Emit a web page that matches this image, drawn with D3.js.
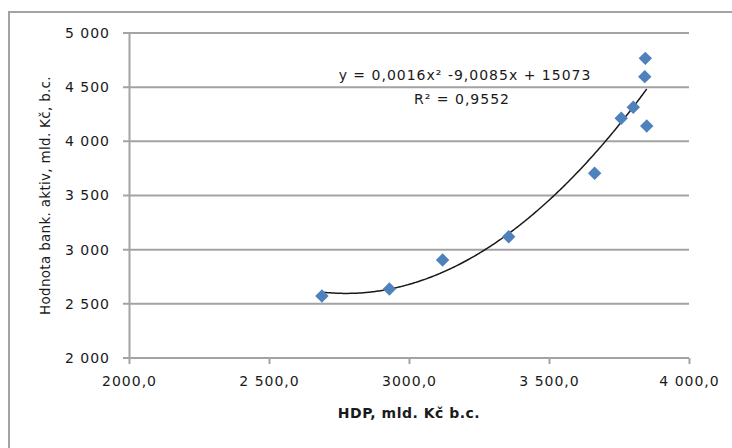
<!DOCTYPE html>
<html>
<head>
<meta charset="utf-8">
<script src="https://cdn.jsdelivr.net/npm/d3@7"></script>
<style>
  body { margin: 0; background: #fff; }
  text { font-family: "DejaVu Sans", sans-serif; fill: #1a1a1a; }
</style>
</head>
<body>
<svg id="chart" width="732" height="448"></svg>
<script>
// HDP (x) vs. bank assets (y)
const hdp = [2689, 2930, 3120, 3356, 3663, 3758, 3801, 3849, 3842, 3844];
const aktiva = [2572, 2637, 2905, 3120, 3705, 4213, 4314, 4142, 4597, 4766];

const xTicks = [2000, 2500, 3000, 3500, 4000];
const xTickLabels = ["2000,0", "2 500,0", "3000,0", "3 500,0", "4 000,0"];
const yTicks = [2000, 2500, 3000, 3500, 4000, 4500, 5000];
const yTickLabels = ["2 000", "2 500", "3 000", "3 500", "4 000", "4 500", "5 000"];

const eqText = "y = 0,0016x² -9,0085x + 15073";
const r2Text = "R² = 0,9552";

const margins = { left: 129, top: 33, right: 43, bottom: 90 };
const svg = d3.select("#chart");
const width = 732 - margins.left - margins.right;
const height = 448 - margins.top - margins.bottom;

const gridCol = "#a3a3a3";

// outer chart frame
svg.append("rect")
  .attr("x", 9).attr("y", 12)
  .attr("width", 760).attr("height", 460)
  .attr("fill", "none")
  .attr("stroke", gridCol)
  .attr("stroke-width", 2);

const xScale = d3.scaleLinear().domain([2000, 4000]).range([0, width]);
const yScale = d3.scaleLinear().domain([2000, 5000]).range([height, 0]);

const g = svg.append("g")
  .attr("transform", `translate(${margins.left} ${margins.top})`);

// horizontal gridlines (with left tick stubs)
g.selectAll("line.grid")
  .data(yTicks)
  .enter()
  .append("line")
  .attr("class", "grid")
  .attr("x1", -6).attr("x2", width)
  .attr("y1", d => yScale(d)).attr("y2", d => yScale(d))
  .attr("stroke", gridCol)
  .attr("stroke-width", 2);

// y axis
const yAxis = d3.axisLeft(yScale)
  .tickValues(yTicks)
  .tickSize(0)
  .tickPadding(19)
  .tickFormat((d, i) => yTickLabels[i]);
const yAxisG = g.append("g").call(yAxis);
yAxisG.select("path").attr("stroke", gridCol).attr("stroke-width", 2);
yAxisG.selectAll("text")
  .style("font-size", "14px")
  .style("letter-spacing", "1px")
  .style("font-family", "DejaVu Sans")
  .attr("fill", "#1a1a1a");

// x axis
const xAxis = d3.axisBottom(xScale)
  .tickValues(xTicks)
  .tickSize(6)
  .tickPadding(12)
  .tickFormat((d, i) => xTickLabels[i]);
const xAxisG = g.append("g")
  .attr("transform", `translate(0 ${height})`)
  .call(xAxis);
xAxisG.select("path").attr("stroke", gridCol).attr("stroke-width", 2).attr("d", `M0,0H${width}`);
xAxisG.selectAll("line").attr("stroke", gridCol).attr("stroke-width", 2);
xAxisG.selectAll("text")
  .style("font-size", "14px")
  .style("letter-spacing", "1px")
  .style("font-family", "DejaVu Sans")
  .attr("fill", "#1a1a1a");

// quadratic least-squares trendline
let s = [0, 0, 0, 0, 0], t = [0, 0, 0];
hdp.forEach((x, i) => {
  for (let k = 0; k < 5; k++) s[k] += Math.pow(x, k);
  for (let k = 0; k < 3; k++) t[k] += Math.pow(x, k) * aktiva[i];
});
function det3(m) {
  return m[0][0] * (m[1][1] * m[2][2] - m[1][2] * m[2][1])
    - m[0][1] * (m[1][0] * m[2][2] - m[1][2] * m[2][0])
    + m[0][2] * (m[1][0] * m[2][1] - m[1][1] * m[2][0]);
}
const M = [[s[0], s[1], s[2]], [s[1], s[2], s[3]], [s[2], s[3], s[4]]];
const D = det3(M);
const coef = [0, 1, 2].map(c => {
  const Mc = M.map((row, r) => row.map((v, j) => (j === c ? t[r] : v)));
  return det3(Mc) / D;
});
const fit = x => coef[0] + coef[1] * x + coef[2] * x * x;

const xs = d3.range(d3.min(hdp), d3.max(hdp) + 1, 5);
const line = d3.line()
  .x(d => xScale(d))
  .y(d => yScale(fit(d)));
g.append("path")
  .datum(xs)
  .attr("d", line)
  .attr("fill", "none")
  .attr("stroke", "#1a1a1a")
  .attr("stroke-width", 1.5);

// points (diamonds)
const diamond = d3.symbol().type(d3.symbolDiamond2).size(115);
g.selectAll("path.pt")
  .data(hdp)
  .enter()
  .append("path")
  .attr("class", "pt")
  .attr("d", diamond)
  .attr("transform", (d, i) => `translate(${xScale(d)} ${yScale(aktiva[i])})`)
  .attr("fill", "#4f81bd");

// equation + R2
svg.append("text")
  .attr("x", 465).attr("y", 80)
  .attr("text-anchor", "middle")
  .style("font-size", "14px")
  .style("letter-spacing", "1px")
  .text(eqText);
svg.append("text")
  .attr("x", 462).attr("y", 104)
  .attr("text-anchor", "middle")
  .style("font-size", "14px")
  .style("letter-spacing", "1px")
  .text(r2Text);

// axis titles
svg.append("text")
  .attr("x", margins.left + width / 2).attr("y", 418)
  .attr("text-anchor", "middle")
  .style("font-size", "14px")
  .style("letter-spacing", "0.5px")
  .style("font-weight", "bold")
  .text("HDP, mld. Kč b.c.");

svg.append("text")
  .attr("transform", `translate(50 ${margins.top + height / 2}) rotate(-90)`)
  .attr("text-anchor", "middle")
  .style("font-size", "13.5px")
  .style("letter-spacing", "0.3px")
  .text("Hodnota bank. aktiv, mld. Kč, b.c.");
</script>
</body>
</html>
